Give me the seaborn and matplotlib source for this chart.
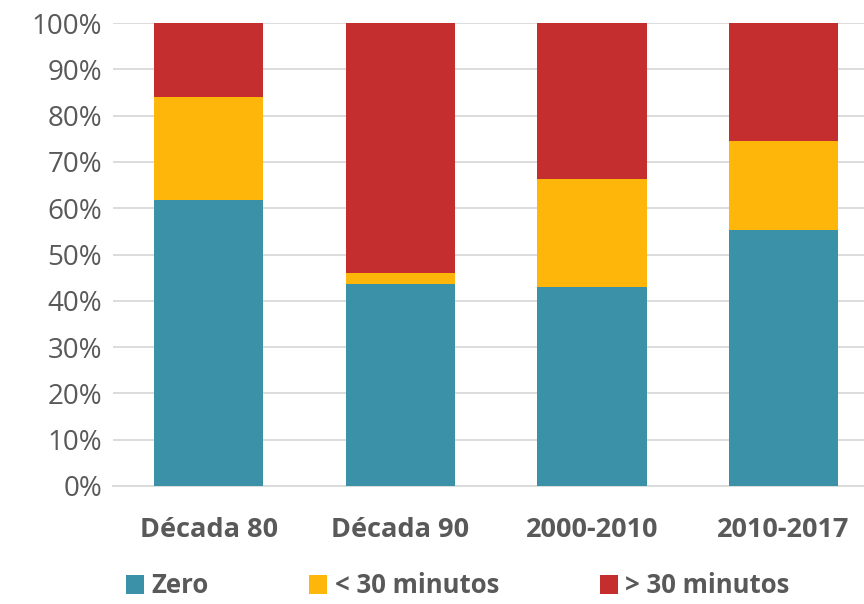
import numpy as np
import pandas as pd
import matplotlib
matplotlib.use('Agg')
import matplotlib.pyplot as plt
import seaborn as sns
from matplotlib.ticker import PercentFormatter
from matplotlib.patches import Patch

# ── Data ──────────────────────────────────────────────────────────
categories = ["Década 80", "Década 90", "2000-2010", "2010-2017"]
zero = [61.7, 43.7, 42.9, 55.3]
menos_30 = [22.3, 2.4, 23.3, 19.2]
mais_30 = [16.0, 53.9, 33.8, 25.5]
series_names = ["Zero", "< 30 minutos", "> 30 minutos"]
colors = ["#3A91A8", "#FFB60B", "#C42E2F"]

df = pd.DataFrame({"cat": categories, "zero": zero, "lt30": menos_30, "gt30": mais_30})
df["c1"] = df["zero"]
df["c2"] = df["zero"] + df["lt30"]
df["c3"] = df["c2"] + df["gt30"]

sns.set_theme(style="white")
plt.rcParams['font.family'] = ['Open Sans', 'DejaVu Sans']
text_color = "#595959"

fig = plt.figure(figsize=(8.64, 6.04), dpi=100)
ax = fig.add_axes([113 / 864, 1 - 486 / 604, 1 - 113 / 864, 463 / 604])

# stacked bars: draw cumulative tops, largest first
for col, color in zip(["c3", "c2", "c1"], colors[::-1]):
    sns.barplot(data=df, x="cat", y=col, color=color, width=0.57,
                saturation=1, ax=ax, zorder=3, edgecolor="none")

ax.set_ylim(0, 100)
ax.set_xlim(-0.5, 3.42)
ax.set_yticks(np.arange(0, 101, 10))
ax.yaxis.set_major_formatter(PercentFormatter(decimals=0))
ax.grid(axis="y", color="#D9D9D9", linewidth=1.3, zorder=0)
ax.set_axisbelow(True)
for s in ["top", "right", "left"]:
    ax.spines[s].set_visible(False)
ax.spines["bottom"].set_color("#D9D9D9")
ax.spines["bottom"].set_linewidth(1.3)
ax.set_xlabel("")
ax.set_ylabel("")
ax.tick_params(axis="y", labelsize=20, colors=text_color, pad=8, length=0)
ax.tick_params(axis="x", labelsize=19.5, colors=text_color, pad=22, length=0)
for lbl in ax.get_xticklabels():
    lbl.set_fontweight("bold")

handles = [Patch(facecolor=c, edgecolor="none") for c in colors]
leg = fig.legend(handles, series_names, loc="center", bbox_to_anchor=(0.53, 0.03),
                 ncol=3, frameon=False, fontsize=18.5, handlelength=0.7,
                 handleheight=0.75, handletextpad=0.3, columnspacing=3.9,
                 borderpad=0.2)
for t in leg.get_texts():
    t.set_color(text_color)
    t.set_fontweight("bold")

fig.savefig("out.png", dpi=100)
